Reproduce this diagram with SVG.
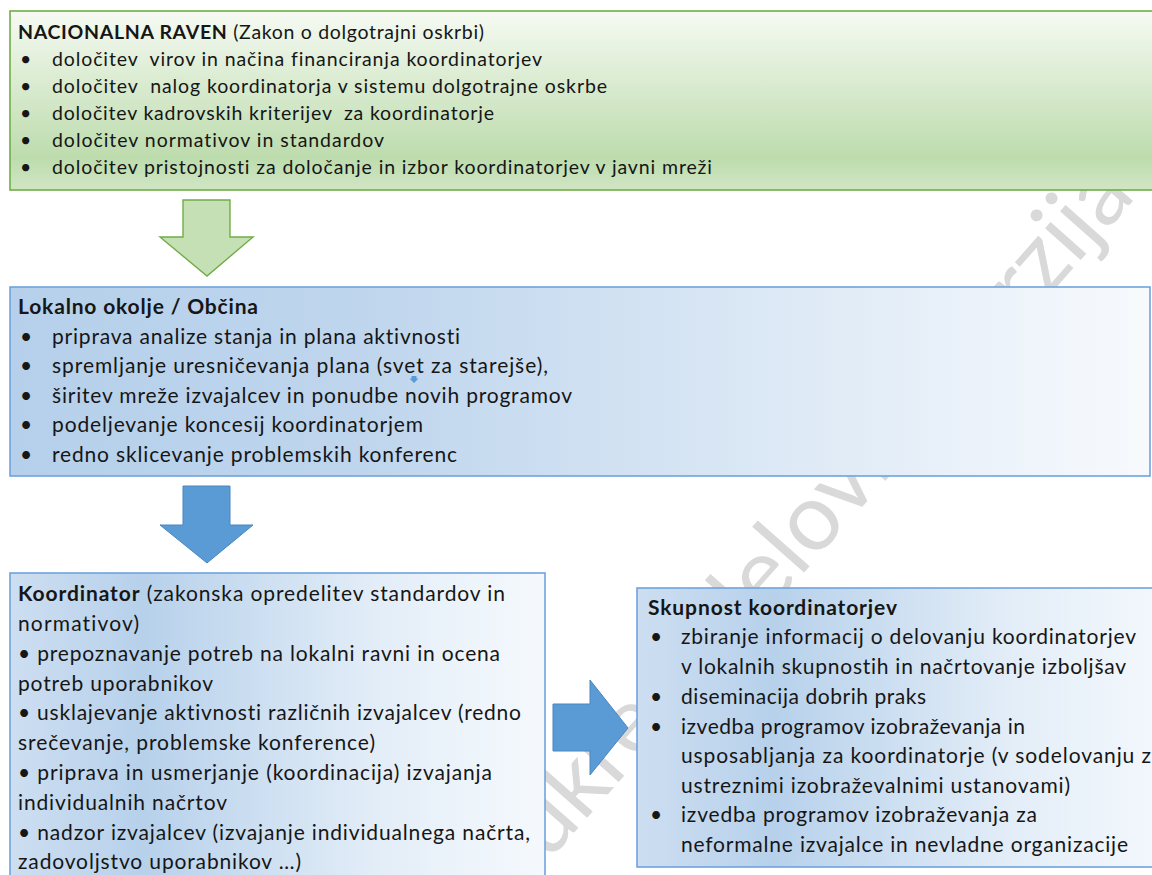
<svg xmlns="http://www.w3.org/2000/svg" width="1152" height="875" viewBox="0 0 1152 875">
<style>
text{font-family:Lato,"Open Sans","Liberation Sans",sans-serif;fill:#161616;font-variant-ligatures:none}
.g{font-size:19.5px}
.b{font-size:21px}
.bold{font-weight:bold}
.wm{font-size:94px;fill:#d9d9d9}
.boxG{fill:url(#gGreen);stroke:#70ad47;stroke-width:1.6}
.boxB{stroke:#6fa3dc;stroke-width:1.6}
.arB{fill:#5b9bd5;stroke:#4a86bf;stroke-width:1}
.arG{fill:#c5e0b4;stroke:#70ad47;stroke-width:1.4}
</style>
<defs>
<linearGradient id="gGreen" x1="0" y1="0" x2="0" y2="1">
<stop offset="0" stop-color="#f6faf3"/>
<stop offset="0.82" stop-color="#bddcad"/>
<stop offset="1" stop-color="#d0e6c4"/>
</linearGradient>
<linearGradient id="gLok" x1="0" y1="0" x2="1" y2="0">
<stop offset="0" stop-color="#b6d0eb"/>
<stop offset="0.3" stop-color="#bed5ed"/>
<stop offset="1" stop-color="#f7fafd"/>
</linearGradient>
<linearGradient id="gKoo" x1="0" y1="0" x2="1" y2="0">
<stop offset="0" stop-color="#cddef1"/>
<stop offset="0.25" stop-color="#b7d1eb"/>
<stop offset="0.7" stop-color="#e4eef8"/>
<stop offset="1" stop-color="#f5f9fd"/>
</linearGradient>
</defs>
<rect width="1152" height="875" fill="#ffffff"/>
<g id="watermark">
<text class="wm" transform="translate(548,862) rotate(-48.5)">ukrep –<tspan dx="-60"> delovna verzija</tspan></text>
</g>
<g id="node-nacionalna">
<rect class="boxG" x="10" y="11" width="1160" height="179"/>
<text class="g" x="18" y="39" textLength="466"><tspan class="bold">NACIONALNA RAVEN</tspan> (Zakon o dolgotrajni oskrbi)</text>
<text class="g" x="20" y="66">•</text><text class="g" x="52" y="66" textLength="490" xml:space="preserve">določitev  virov in načina financiranja koordinatorjev</text>
<text class="g" x="20" y="93">•</text><text class="g" x="52" y="93" textLength="555" xml:space="preserve">določitev  nalog koordinatorja v sistemu dolgotrajne oskrbe</text>
<text class="g" x="20" y="120">•</text><text class="g" x="52" y="120" textLength="442" xml:space="preserve">določitev kadrovskih kriterijev  za koordinatorje</text>
<text class="g" x="20" y="147">•</text><text class="g" x="52" y="147" textLength="332">določitev normativov in standardov</text>
<text class="g" x="20" y="174">•</text><text class="g" x="52" y="174" textLength="660">določitev pristojnosti za določanje in izbor koordinatorjev v javni mreži</text>
</g>
<g id="node-lokalno">
<rect class="boxB" fill="url(#gLok)" x="10" y="287" width="1140" height="189"/>
<text class="b bold" x="18" y="314" textLength="240">Lokalno okolje / Občina</text>
<text class="b" x="20" y="344">•</text><text class="b" x="52" y="344" textLength="408">priprava analize stanja in plana aktivnosti</text>
<text class="b" x="20" y="373">•</text><text class="b" x="52" y="373" textLength="496">spremljanje uresničevanja plana (svet za starejše),</text>
<text class="b" x="20" y="403">•</text><text class="b" x="52" y="403" textLength="520">širitev mreže izvajalcev in ponudbe novih programov</text>
<text class="b" x="20" y="432">•</text><text class="b" x="52" y="432" textLength="371">podeljevanje koncesij koordinatorjem</text>
<text class="b" x="20" y="462">•</text><text class="b" x="52" y="462" textLength="405">redno sklicevanje problemskih konferenc</text>
<path d="M411.5 376 h5 v2.5 h2 l-4.5 4.5 l-4.5 -4.5 h2 z" fill="#5b9bd5"/>
</g>
<g id="node-koordinator">
<rect class="boxB" fill="url(#gKoo)" x="10" y="573" width="535" height="330"/>
<text class="b" x="18" y="601" textLength="487"><tspan class="bold">Koordinator</tspan> (zakonska opredelitev standardov in</text>
<text class="b" x="18" y="631" textLength="121">normativov)</text>
<text class="b" x="18" y="661" textLength="482">• prepoznavanje potreb na lokalni ravni in ocena</text>
<text class="b" x="18" y="691" textLength="195">potreb uporabnikov</text>
<text class="b" x="18" y="720" textLength="503">• usklajevanje aktivnosti različnih izvajalcev (redno</text>
<text class="b" x="18" y="750" textLength="357">srečevanje, problemske konference)</text>
<text class="b" x="18" y="780" textLength="474">• priprava in usmerjanje (koordinacija) izvajanja</text>
<text class="b" x="18" y="810" textLength="209">individualnih načrtov</text>
<text class="b" x="18" y="840" textLength="512">• nadzor izvajalcev (izvajanje individualnega načrta,</text>
<text class="b" x="18" y="869" textLength="283">zadovoljstvo uporabnikov …)</text>
</g>
<g id="node-skupnost">
<rect class="boxB" fill="url(#gKoo)" x="637" y="588" width="545" height="279"/>
<text class="b bold" x="648" y="615" textLength="249">Skupnost koordinatorjev</text>
<text class="b" x="650" y="644">•</text><text class="b" x="681" y="644" textLength="455">zbiranje informacij o delovanju koordinatorjev</text>
<text class="b" x="681" y="674" textLength="445">v lokalnih skupnostih in načrtovanje izboljšav</text>
<text class="b" x="650" y="704">•</text><text class="b" x="681" y="704" textLength="245">diseminacija dobrih praks</text>
<text class="b" x="650" y="734">•</text><text class="b" x="681" y="734" textLength="344">izvedba programov izobraževanja in</text>
<text class="b" x="681" y="763" textLength="470">usposabljanja za koordinatorje (v sodelovanju z</text>
<text class="b" x="681" y="793" textLength="389">ustreznimi izobraževalnimi ustanovami)</text>
<text class="b" x="650" y="822">•</text><text class="b" x="681" y="822" textLength="356">izvedba programov izobraževanja za</text>
<text class="b" x="681" y="852" textLength="447">neformalne izvajalce in nevladne organizacije</text>
</g>
<g id="connectors">
<path class="arG" d="M183 200 H230 V237 H253 L207 276 L160 237 H183 Z"/>
<path class="arB" d="M183 486 H230 V525 H253 L207 563 L160 525 H183 Z"/>
<path class="arB" d="M553 704 H590 V680 L628 728 L590 775 V751 H553 Z"/>
</g>
</svg>
